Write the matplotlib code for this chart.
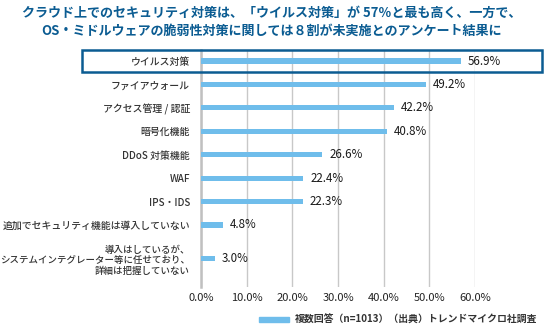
import numpy as np
import matplotlib
matplotlib.use("Agg")
import matplotlib.pyplot as plt
from matplotlib.patches import Rectangle, Patch

plt.rcParams['font.family'] = ['Noto Sans CJK JP', 'DejaVu Sans']

title = ("クラウド上でのセキュリティ対策は、「ウイルス対策」が 57％と最も高く、一方で、\n"
         "OS・ミドルウェアの脆弱性対策に関しては８割が未実施とのアンケート結果に")
categories = ["ウイルス対策", "ファイアウォール", "アクセス管理 / 認証", "暗号化機能",
              "DDoS 対策機能", "WAF", "IPS・IDS", "追加でセキュリティ機能は導入していない",
              "導入はしているが、\nシステムインテグレーター等に任せており、\n詳細は把握していない"]
values = [56.9, 49.2, 42.2, 40.8, 26.6, 22.4, 22.3, 4.8, 3.0]
xticks = [0, 10, 20, 30, 40, 50, 60]
legend_label = "複数回答（n=1013）（出典）トレンドマイクロ社調査"

BAR = "#6fbdeb"
DARK = "#0b5c92"

fig = plt.figure(figsize=(5.44, 3.26), dpi=100)
ax = fig.add_axes([201 / 544, 1 - 287 / 326, 274 / 544, 237 / 326])

ypos = np.arange(len(values), dtype=float)
ypos[-1] = 8.45  # extra room for the three-line label
ax.barh(ypos, values, height=0.22, color=BAR, zorder=3)
for y, v in zip(ypos, values):
    ax.text(v + 1.5, y, f"{v:.1f}%", va="center", ha="left", fontsize=8.3, color="#1a1a1a")

ax.set_xlim(0, 60)
ax.set_ylim(9.65, -0.47)
ax.set_xticks(xticks)
ax.set_xticklabels([f"{t:.1f}%" for t in xticks], fontsize=8, color="#222222")
ax.set_yticks(ypos)
ax.set_yticklabels(categories, fontsize=7.1, color="#333333", linespacing=1.25,
                   fontweight="medium")
ax.get_yticklabels()[-1].set_fontsize(6.8)   # long 3-line label, keep it on the canvas
ax.tick_params(axis="both", length=0)
ax.tick_params(axis="y", pad=8)
ax.tick_params(axis="x", pad=4)
ax.grid(True, axis="x", color="#c8c8c8", lw=1.0, zorder=0)
for s in ["top", "right", "bottom"]:
    ax.spines[s].set_visible(False)
ax.spines["left"].set_color("#c0c0c0")
ax.spines["left"].set_linewidth(1.8)

# highlight box round the first row
fig.patches.append(Rectangle((82 / 544, 1 - 72 / 326), 460 / 544, 22 / 326,
                             transform=fig.transFigure, fill=False,
                             edgecolor=DARK, lw=1.8, zorder=5))

fig.text(0.5, 1 - 22 / 326, title, ha="center", va="center", fontsize=9.4,
         fontweight="bold", color=DARK, linespacing=1.35)

fig.legend(handles=[Patch(color=BAR, label=legend_label)], loc="center right",
           bbox_to_anchor=(546 / 544, 1 - 320 / 326), frameon=False,
           handlelength=3.0, handleheight=0.4, handletextpad=0.6,
           labelcolor="#333333", prop={"weight": "bold", "size": 7.1})

fig.savefig("out.png", dpi=100)
